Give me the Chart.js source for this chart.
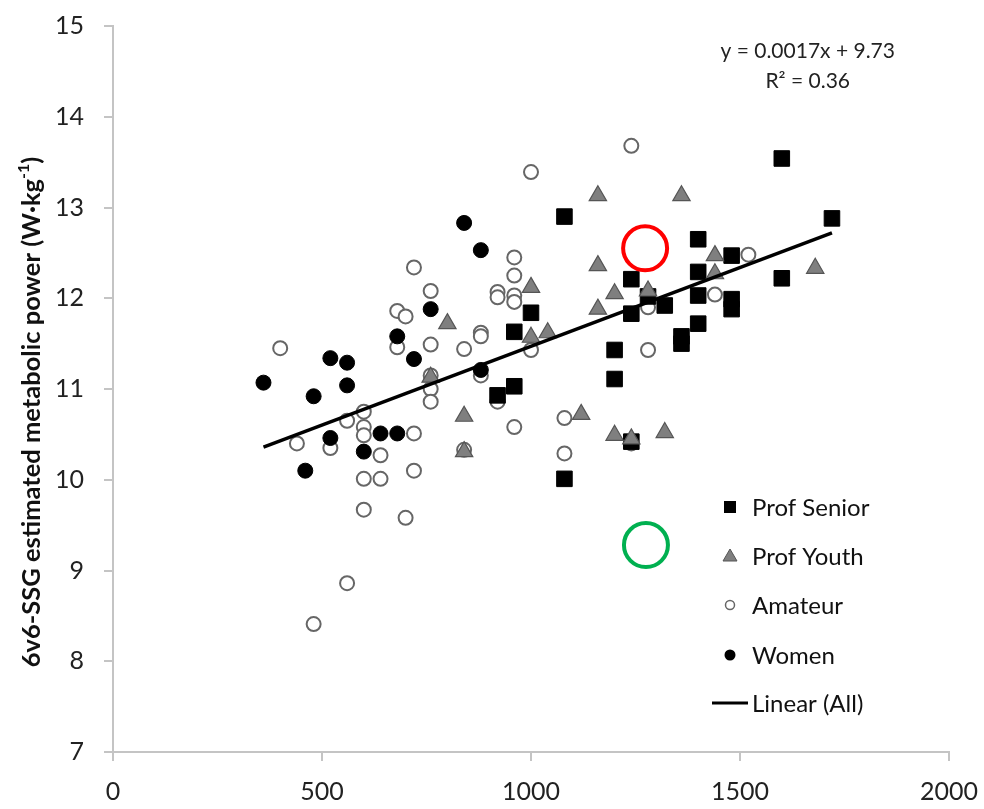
<!DOCTYPE html>
<html><head><meta charset="utf-8">
<script src="https://cdn.jsdelivr.net/npm/chart.js@4.4.0/dist/chart.umd.min.js"></script>
<style>html,body{margin:0;padding:0;background:#fff;}#wrap{width:984px;height:809px;position:relative;}</style>
</head><body><div id="wrap"><canvas id="c"></canvas></div>
<script>
// ---- data ----
const xTicks = [0, 500, 1000, 1500, 2000];
const yTicks = [7, 8, 9, 10, 11, 12, 13, 14, 15];
const seriesNames = ['Prof Senior', 'Prof Youth', 'Amateur', 'Women', 'Linear (All)'];

const seniorX = [920, 960, 960, 1000, 1080, 1080, 1200, 1200, 1240, 1240, 1240, 1280, 1320, 1360, 1360, 1400, 1400, 1400, 1400, 1480, 1480, 1480, 1600, 1600, 1720];
const seniorY = [10.93, 11.63, 11.03, 11.84, 12.90, 10.01, 11.43, 11.11, 12.21, 11.83, 10.42, 12.02, 11.92, 11.58, 11.50, 12.65, 12.29, 12.03, 11.72, 12.47, 11.99, 11.88, 13.54, 12.22, 12.88];

const youthX = [760, 800, 840, 840, 1000, 1000, 1040, 1120, 1160, 1160, 1160, 1200, 1200, 1240, 1280, 1320, 1360, 1440, 1440, 1680];
const youthY = [11.13, 11.72, 10.70, 10.31, 12.12, 11.57, 11.62, 10.72, 13.13, 12.36, 11.88, 12.05, 10.49, 10.45, 12.08, 10.52, 13.13, 12.47, 12.27, 12.33];

const amateurX = [400, 440, 480, 520, 560, 560, 600, 600, 600, 600, 600, 640, 640, 680, 680, 700, 700, 720, 720, 720, 760, 760, 760, 760, 760, 840, 840, 880, 880, 880, 920, 920, 920, 960, 960, 960, 960, 960, 1000, 1000, 1080, 1080, 1240, 1240, 1280, 1280, 1440, 1520];
const amateurY = [11.45, 10.40, 8.41, 10.35, 10.65, 8.86, 10.75, 10.58, 10.49, 10.01, 9.67, 10.27, 10.01, 11.86, 11.46, 11.80, 9.58, 12.34, 10.51, 10.10, 12.08, 11.49, 11.15, 11.00, 10.86, 11.44, 10.33, 11.62, 11.58, 11.15, 12.07, 12.01, 10.86, 12.45, 12.25, 12.03, 11.96, 10.58, 13.39, 11.43, 10.68, 10.29, 13.68, 10.40, 11.90, 11.43, 12.04, 12.48];

const womenX = [360, 460, 480, 520, 520, 560, 560, 600, 640, 680, 680, 720, 760, 840, 880, 880];
const womenY = [11.07, 10.10, 10.92, 11.34, 10.46, 11.29, 11.04, 10.31, 10.51, 11.58, 10.51, 11.33, 11.88, 12.83, 12.53, 11.21];

const trendX = [360, 1720];
const trendY = [10.36, 12.72];

const equationText = 'y = 0.0017x + 9.73';
const r2Text = 'R² = 0.36';
const equationAnchor = [1662, 14.72];   // data coords of equation centre
const r2Anchor = [1662, 14.39];

// hand-drawn highlight ellipses (data coords)
const redMarkX = [1273], redMarkY = [12.55];
const greenMarkX = [1275], greenMarkY = [9.28];

const yTitleMain = '6v6-SSG estimated metabolic power (W·kg';
const yTitleSup = '-1';
const yTitleEnd = ')';

// ---- build chart ----
const pts = (xs, ys) => xs.map((x, i) => ({x, y: ys[i]}));
const FONT = 'Lato, "Open Sans", sans-serif';
const AXIS_COLOR = '#c4c4c4';

const overlay = {
  id: 'overlay',
  afterDraw(chart) {
    const ctx = chart.ctx, xs = chart.scales.x, ys = chart.scales.y;
    ctx.save();
    ctx.fillStyle = '#222';
    ctx.font = '21px ' + FONT;
    ctx.textAlign = 'center'; ctx.textBaseline = 'middle';
    ctx.fillText(equationText, xs.getPixelForValue(equationAnchor[0]), ys.getPixelForValue(equationAnchor[1]));
    ctx.fillText(r2Text, xs.getPixelForValue(r2Anchor[0]), ys.getPixelForValue(r2Anchor[1]));

    ctx.save();
    ctx.translate(32, 412);
    ctx.rotate(-Math.PI / 2);
    ctx.fillStyle = '#111';
    const bold = 'bold 25.5px ' + FONT, boldSm = 'bold 16px ' + FONT;
    ctx.font = bold; const w1 = ctx.measureText(yTitleMain).width;
    ctx.font = boldSm; const w2 = ctx.measureText(yTitleSup).width;
    ctx.font = bold; const w3 = ctx.measureText(yTitleEnd).width;
    let sx = -(w1 + w2 + w3) / 2;
    ctx.textAlign = 'left'; ctx.textBaseline = 'middle';
    ctx.font = bold; ctx.fillText(yTitleMain, sx, 0); sx += w1;
    ctx.font = boldSm; ctx.fillText(yTitleSup, sx, -8); sx += w2;
    ctx.font = bold; ctx.fillText(yTitleEnd, sx, 0);
    ctx.restore();

    const lx = 730, tx = 752, rows = [507, 556, 605, 655, 703];
    ctx.font = '24px ' + FONT; ctx.fillStyle = '#111';
    ctx.textAlign = 'left'; ctx.textBaseline = 'middle';
    rows.forEach((ry, i) => ctx.fillText(seriesNames[i], tx, ry + 1));
    ctx.fillStyle = '#000'; ctx.fillRect(lx - 6, rows[0] - 6, 12, 12);
    ctx.beginPath(); ctx.moveTo(lx, rows[1] - 7); ctx.lineTo(lx + 7, rows[1] + 5); ctx.lineTo(lx - 7, rows[1] + 5); ctx.closePath();
    ctx.fillStyle = '#7f7f7f'; ctx.fill(); ctx.strokeStyle = '#555'; ctx.lineWidth = 1; ctx.stroke();
    ctx.beginPath(); ctx.arc(lx, rows[2], 4.5, 0, Math.PI * 2); ctx.fillStyle = '#fff'; ctx.fill();
    ctx.strokeStyle = '#666'; ctx.lineWidth = 1.5; ctx.stroke();
    ctx.beginPath(); ctx.arc(lx, rows[3], 5.5, 0, Math.PI * 2); ctx.fillStyle = '#000'; ctx.fill();
    ctx.beginPath(); ctx.moveTo(712, rows[4]); ctx.lineTo(748, rows[4]); ctx.strokeStyle = '#000'; ctx.lineWidth = 3; ctx.stroke();
    ctx.restore();
  }
};

new Chart(document.getElementById('c'), {
  type: 'scatter',
  data: {
    datasets: [
      { type: 'line', label: seriesNames[4], data: pts(trendX, trendY), borderColor: '#000', borderWidth: 3.5, pointRadius: 0, fill: false, order: 0 },
      { label: 'mark1', data: pts(redMarkX, redMarkY), pointStyle: 'circle', pointRadius: 22, backgroundColor: 'rgba(0,0,0,0)', borderColor: '#ff0000', borderWidth: 4, order: 1 },
      { label: 'mark2', data: pts(greenMarkX, greenMarkY), pointStyle: 'circle', pointRadius: 22, backgroundColor: 'rgba(0,0,0,0)', borderColor: '#00b050', borderWidth: 4, order: 1 },
      { label: seriesNames[1], data: pts(youthX, youthY), pointStyle: 'triangle', pointRadius: 10, backgroundColor: '#7f7f7f', borderColor: '#555', borderWidth: 1.2, order: 2 },
      { label: seriesNames[0], data: pts(seniorX, seniorY), pointStyle: 'rect', pointRadius: 11, backgroundColor: '#000', borderColor: '#000', borderWidth: 1, order: 3 },
      { label: seriesNames[3], data: pts(womenX, womenY), pointStyle: 'circle', pointRadius: 7.5, backgroundColor: '#000', borderColor: '#000', borderWidth: 1, order: 4 },
      { label: seriesNames[2], data: pts(amateurX, amateurY), pointStyle: 'circle', pointRadius: 7, backgroundColor: '#fff', borderColor: '#666', borderWidth: 2, order: 5 }
    ]
  },
  options: {
    responsive: true, maintainAspectRatio: false, animation: false,
    layout: { padding: { left: 0, top: 23, right: 35, bottom: 0 } },
    plugins: { legend: { display: false }, tooltip: { enabled: false } },
    scales: {
      x: {
        type: 'linear', min: xTicks[0], max: xTicks[xTicks.length - 1],
        afterBuildTicks: s => { s.ticks = xTicks.map(v => ({value: v})); },
        afterFit: s => { s.height = 57; s.paddingLeft = 0; s.paddingRight = 0; },
        ticks: { font: { family: FONT, size: 25 }, color: '#222', padding: 16, maxRotation: 0, callback: v => String(v) },
        grid: { drawOnChartArea: false, drawTicks: true, tickLength: 9, color: AXIS_COLOR, lineWidth: 2 },
        border: { display: true, color: AXIS_COLOR, width: 2 }
      },
      y: {
        type: 'linear', min: yTicks[0], max: yTicks[yTicks.length - 1],
        afterBuildTicks: s => { s.ticks = yTicks.map(v => ({value: v})); },
        afterFit: s => { s.width = 113; s.paddingTop = 0; s.paddingBottom = 0; },
        ticks: { font: { family: FONT, size: 25 }, color: '#222', padding: 20, callback: v => String(v) },
        grid: { drawOnChartArea: false, drawTicks: true, tickLength: 9, color: AXIS_COLOR, lineWidth: 2 },
        border: { display: true, color: AXIS_COLOR, width: 2 }
      }
    }
  },
  plugins: [overlay]
});
</script></body></html>
